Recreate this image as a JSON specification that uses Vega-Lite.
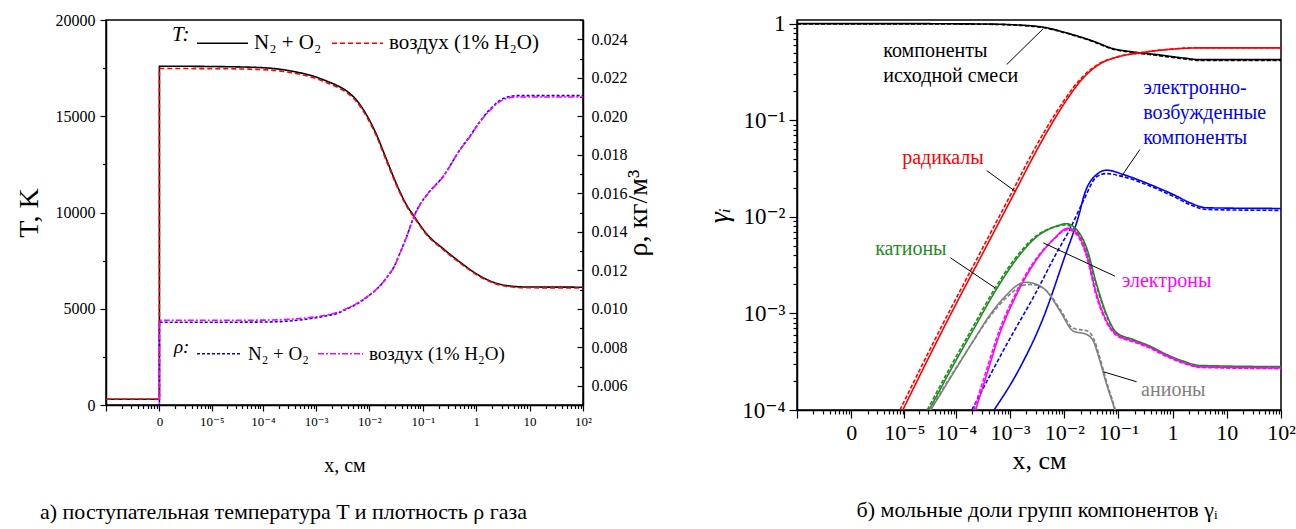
{
  "$schema": "https://vega.github.io/schema/vega-lite/v6.json",
  "background": "white",
  "padding": {"left": 14, "top": 11, "right": 0, "bottom": 0},
  "spacing": 52,
  "config": {
    "font": "Liberation Serif, DejaVu Serif",
    "view": {"stroke": "black", "strokeWidth": 1.5},
    "axis": {"domainColor": "black", "tickColor": "black", "labelColor": "black", "titleColor": "black", "labelFont": "Liberation Serif, DejaVu Serif", "titleFont": "Liberation Serif, DejaVu Serif", "titleFontWeight": "normal", "grid": false, "domainWidth": 1.5, "tickWidth": 1.2, "labelFlush": false, "labelOverlap": false, "labelBound": false},
    "title": {"font": "Liberation Serif, DejaVu Serif", "fontWeight": "normal", "color": "black", "fontSize": 22}
  },
  "hconcat": [
    {
      "width": 477,
      "height": 385,
      "title": {"text": "а) поступательная температура T и плотность ρ газа", "orient": "bottom", "anchor": "middle", "offset": 27, "dx": -61},
      "encoding": {
        "x": {
          "field": "x", "type": "quantitative",
          "scale": {"type": "symlog", "constant": 1.17e-6, "domain": [-1.053e-5, 100], "nice": false, "zero": false},
          "axis": {
            "title": "x, см", "titleFontSize": 20, "titlePadding": 27,
            "values": [-1.053e-5, -4.68e-6, -2.73e-6, -1.755e-6, -1.17e-6, -7.8e-7, -5.01e-7, -2.93e-7, -1.3e-7, 0, 1.17e-6, 2.34e-6, 3.51e-6, 4.68e-6, 5.85e-6, 7.02e-6, 8.19e-6, 9.36e-6, 1e-5, 2e-5, 3e-5, 4e-5, 5e-5, 6e-5, 7e-5, 8e-5, 9e-5, 1e-4, 2e-4, 3e-4, 4e-4, 5e-4, 6e-4, 7e-4, 8e-4, 9e-4, 0.001, 0.002, 0.003, 0.004, 0.005, 0.006, 0.007, 0.008, 0.009, 0.01, 0.02, 0.03, 0.04, 0.05, 0.06, 0.07, 0.08, 0.09, 0.1, 0.2, 0.3, 0.4, 0.5, 0.6, 0.7, 0.8, 0.9, 1, 2, 3, 4, 5, 6, 7, 8, 9, 10, 20, 30, 40, 50, 60, 70, 80, 90, 100],
            "labelExpr": "datum.value === 0 ? '0' : datum.value === 0.00001 ? '10⁻⁵' : datum.value === 0.0001 ? '10⁻⁴' : datum.value === 0.001 ? '10⁻³' : datum.value === 0.01 ? '10⁻²' : datum.value === 0.1 ? '10⁻¹' : datum.value === 1 ? '1' : datum.value === 10 ? '10' : datum.value === 100 ? '10²' : ''",
            "labelFontSize": 13, "labelPadding": 4,
            "tickSize": {"condition": {"test": "indexof([-0.00001053, 0, 0.00001, 0.0001, 0.001, 0.01, 0.1, 1, 10, 100], datum.value) >= 0", "value": 6}, "value": 3.5}
          }
        },
        "order": {"field": "i", "type": "quantitative"}
      },
      "layer": [
        {
          "data": {"values": [
            {"mix": "N₂ + O₂", "i": 0, "x": -1.053e-5, "T": 300},
            {"mix": "N₂ + O₂", "i": 1, "x": 0, "T": 300},
            {"mix": "N₂ + O₂", "i": 2, "x": 0, "T": 17600},
            {"mix": "N₂ + O₂", "i": 3, "x": 1.39e-5, "T": 17580},
            {"mix": "N₂ + O₂", "i": 4, "x": 1.04e-4, "T": 17520},
            {"mix": "N₂ + O₂", "i": 5, "x": 4.4e-4, "T": 17290},
            {"mix": "N₂ + O₂", "i": 6, "x": 9e-4, "T": 17080},
            {"mix": "N₂ + O₂", "i": 7, "x": 0.0016, "T": 16820},
            {"mix": "N₂ + O₂", "i": 8, "x": 0.00247, "T": 16600},
            {"mix": "N₂ + O₂", "i": 9, "x": 0.0038, "T": 16300},
            {"mix": "N₂ + O₂", "i": 10, "x": 0.00585, "T": 15810},
            {"mix": "N₂ + O₂", "i": 11, "x": 0.009, "T": 15030},
            {"mix": "N₂ + O₂", "i": 12, "x": 0.01387, "T": 13990},
            {"mix": "N₂ + O₂", "i": 13, "x": 0.0185, "T": 13130},
            {"mix": "N₂ + O₂", "i": 14, "x": 0.0246, "T": 12260},
            {"mix": "N₂ + O₂", "i": 15, "x": 0.0354, "T": 11220},
            {"mix": "N₂ + O₂", "i": 16, "x": 0.0506, "T": 10350},
            {"mix": "N₂ + O₂", "i": 17, "x": 0.0676, "T": 9830},
            {"mix": "N₂ + O₂", "i": 18, "x": 0.119, "T": 8880},
            {"mix": "N₂ + O₂", "i": 19, "x": 0.246, "T": 8100},
            {"mix": "N₂ + O₂", "i": 20, "x": 0.505, "T": 7410},
            {"mix": "N₂ + O₂", "i": 21, "x": 1.03, "T": 6800},
            {"mix": "N₂ + O₂", "i": 22, "x": 2.13, "T": 6370},
            {"mix": "N₂ + O₂", "i": 23, "x": 3.79, "T": 6200},
            {"mix": "N₂ + O₂", "i": 24, "x": 8.97, "T": 6130},
            {"mix": "N₂ + O₂", "i": 25, "x": 100, "T": 6120},
            {"mix": "воздух (1% H₂O)", "i": 0, "x": -1.053e-5, "T": 300},
            {"mix": "воздух (1% H₂O)", "i": 1, "x": 0, "T": 300},
            {"mix": "воздух (1% H₂O)", "i": 2, "x": 0, "T": 17480},
            {"mix": "воздух (1% H₂O)", "i": 3, "x": 1.39e-5, "T": 17470},
            {"mix": "воздух (1% H₂O)", "i": 4, "x": 1.04e-4, "T": 17420},
            {"mix": "воздух (1% H₂O)", "i": 5, "x": 4.4e-4, "T": 17210},
            {"mix": "воздух (1% H₂O)", "i": 6, "x": 9e-4, "T": 17000},
            {"mix": "воздух (1% H₂O)", "i": 7, "x": 0.0016, "T": 16740},
            {"mix": "воздух (1% H₂O)", "i": 8, "x": 0.00247, "T": 16520},
            {"mix": "воздух (1% H₂O)", "i": 9, "x": 0.0038, "T": 16220},
            {"mix": "воздух (1% H₂O)", "i": 10, "x": 0.00585, "T": 15730},
            {"mix": "воздух (1% H₂O)", "i": 11, "x": 0.009, "T": 14950},
            {"mix": "воздух (1% H₂O)", "i": 12, "x": 0.01387, "T": 13910},
            {"mix": "воздух (1% H₂O)", "i": 13, "x": 0.0185, "T": 13050},
            {"mix": "воздух (1% H₂O)", "i": 14, "x": 0.0246, "T": 12190},
            {"mix": "воздух (1% H₂O)", "i": 15, "x": 0.0354, "T": 11150},
            {"mix": "воздух (1% H₂O)", "i": 16, "x": 0.0506, "T": 10290},
            {"mix": "воздух (1% H₂O)", "i": 17, "x": 0.0676, "T": 9780},
            {"mix": "воздух (1% H₂O)", "i": 18, "x": 0.119, "T": 8830},
            {"mix": "воздух (1% H₂O)", "i": 19, "x": 0.246, "T": 8050},
            {"mix": "воздух (1% H₂O)", "i": 20, "x": 0.505, "T": 7360},
            {"mix": "воздух (1% H₂O)", "i": 21, "x": 1.03, "T": 6760},
            {"mix": "воздух (1% H₂O)", "i": 22, "x": 2.13, "T": 6330},
            {"mix": "воздух (1% H₂O)", "i": 23, "x": 3.79, "T": 6160},
            {"mix": "воздух (1% H₂O)", "i": 24, "x": 8.97, "T": 6090},
            {"mix": "воздух (1% H₂O)", "i": 25, "x": 100, "T": 6080}
          ]},
          "mark": {"type": "line", "strokeWidth": 1.6, "clip": true, "interpolate": "monotone"},
          "encoding": {
            "y": {
              "field": "T", "type": "quantitative",
              "scale": {"domain": [0, 20000], "nice": false},
              "axis": {
                "orient": "left", "title": "T, K", "titleFontSize": 28, "titlePadding": 12,
                "values": [0, 2500, 5000, 7500, 10000, 12500, 15000, 17500, 20000],
                "labelExpr": "datum.value % 5000 === 0 ? format(datum.value, 'd') : ''",
                "labelFontSize": 16, "labelPadding": 5,
                "tickSize": {"condition": {"test": "datum.value % 5000 === 0", "value": 6}, "value": 3.5}
              }
            },
            "color": {
              "field": "mix", "type": "nominal",
              "scale": {"domain": ["N₂ + O₂", "воздух (1% H₂O)"], "range": ["#000000", "#ff0000"]},
              "legend": {"title": "T:", "orient": "none", "legendX": 66, "legendY": -3.5, "direction": "horizontal", "titleOrient": "left", "titleAnchor": "middle", "titleBaseline": "middle", "titleFontStyle": "italic", "titleFont": "Liberation Serif, DejaVu Serif", "titleFontSize": 21, "titleFontWeight": "normal", "titleColor": "black", "labelFont": "Liberation Serif, DejaVu Serif", "labelFontSize": 21, "labelColor": "black", "symbolType": "stroke", "symbolSize": 2601, "symbolStrokeWidth": 1.5, "columnPadding": 7, "labelOffset": 5, "titlePadding": 6, "labelLimit": 300, "padding": 0}
            },
            "strokeDash": {
              "field": "mix", "type": "nominal",
              "scale": {"domain": ["N₂ + O₂", "воздух (1% H₂O)"], "range": [[1, 0], [5, 3]]},
              "legend": {"title": "T:", "orient": "none", "legendX": 66, "legendY": -3.5, "direction": "horizontal", "titleOrient": "left", "titleAnchor": "middle", "titleBaseline": "middle", "titleFontStyle": "italic", "titleFont": "Liberation Serif, DejaVu Serif", "titleFontSize": 21, "titleFontWeight": "normal", "titleColor": "black", "labelFont": "Liberation Serif, DejaVu Serif", "labelFontSize": 21, "labelColor": "black", "symbolType": "stroke", "symbolSize": 2601, "symbolStrokeWidth": 1.5, "columnPadding": 7, "labelOffset": 5, "titlePadding": 6, "labelLimit": 300, "padding": 0}
            }
          }
        },
        {
          "data": {"values": [
            {"mix": "N₂ + O₂", "i": 0, "x": -1.053e-5, "rho": 0.00118},
            {"mix": "N₂ + O₂", "i": 1, "x": 0, "rho": 0.00118},
            {"mix": "N₂ + O₂", "i": 2, "x": 0, "rho": 0.0093},
            {"mix": "N₂ + O₂", "i": 3, "x": 1.39e-5, "rho": 0.0093},
            {"mix": "N₂ + O₂", "i": 4, "x": 1.04e-4, "rho": 0.00931},
            {"mix": "N₂ + O₂", "i": 5, "x": 4.4e-4, "rho": 0.0094},
            {"mix": "N₂ + O₂", "i": 6, "x": 0.0016, "rho": 0.00964},
            {"mix": "N₂ + O₂", "i": 7, "x": 0.00247, "rho": 0.00976},
            {"mix": "N₂ + O₂", "i": 8, "x": 0.0038, "rho": 0.00999},
            {"mix": "N₂ + O₂", "i": 9, "x": 0.00585, "rho": 0.01025},
            {"mix": "N₂ + O₂", "i": 10, "x": 0.009, "rho": 0.0106},
            {"mix": "N₂ + O₂", "i": 11, "x": 0.01387, "rho": 0.01103},
            {"mix": "N₂ + O₂", "i": 12, "x": 0.0213, "rho": 0.01163},
            {"mix": "N₂ + O₂", "i": 13, "x": 0.0285, "rho": 0.01215},
            {"mix": "N₂ + O₂", "i": 14, "x": 0.0379, "rho": 0.01293},
            {"mix": "N₂ + O₂", "i": 15, "x": 0.0506, "rho": 0.0138},
            {"mix": "N₂ + O₂", "i": 16, "x": 0.0676, "rho": 0.01476},
            {"mix": "N₂ + O₂", "i": 17, "x": 0.0897, "rho": 0.01544},
            {"mix": "N₂ + O₂", "i": 18, "x": 0.119, "rho": 0.01592},
            {"mix": "N₂ + O₂", "i": 19, "x": 0.246, "rho": 0.01691},
            {"mix": "N₂ + O₂", "i": 20, "x": 0.505, "rho": 0.0183},
            {"mix": "N₂ + O₂", "i": 21, "x": 0.776, "rho": 0.01899},
            {"mix": "N₂ + O₂", "i": 22, "x": 1.03, "rho": 0.01951},
            {"mix": "N₂ + O₂", "i": 23, "x": 1.84, "rho": 0.02038},
            {"mix": "N₂ + O₂", "i": 24, "x": 3.28, "rho": 0.02093},
            {"mix": "N₂ + O₂", "i": 25, "x": 5.82, "rho": 0.02107},
            {"mix": "N₂ + O₂", "i": 26, "x": 100, "rho": 0.02107},
            {"mix": "воздух (1% H₂O)", "i": 0, "x": -1.053e-5, "rho": 0.00118},
            {"mix": "воздух (1% H₂O)", "i": 1, "x": 0, "rho": 0.00118},
            {"mix": "воздух (1% H₂O)", "i": 2, "x": 0, "rho": 0.0094},
            {"mix": "воздух (1% H₂O)", "i": 3, "x": 1.39e-5, "rho": 0.0094},
            {"mix": "воздух (1% H₂O)", "i": 4, "x": 1.04e-4, "rho": 0.00941},
            {"mix": "воздух (1% H₂O)", "i": 5, "x": 4.4e-4, "rho": 0.00948},
            {"mix": "воздух (1% H₂O)", "i": 6, "x": 0.0016, "rho": 0.00968},
            {"mix": "воздух (1% H₂O)", "i": 7, "x": 0.00247, "rho": 0.0098},
            {"mix": "воздух (1% H₂O)", "i": 8, "x": 0.0038, "rho": 0.01002},
            {"mix": "воздух (1% H₂O)", "i": 9, "x": 0.00585, "rho": 0.01028},
            {"mix": "воздух (1% H₂O)", "i": 10, "x": 0.009, "rho": 0.01062},
            {"mix": "воздух (1% H₂O)", "i": 11, "x": 0.01387, "rho": 0.01104},
            {"mix": "воздух (1% H₂O)", "i": 12, "x": 0.0213, "rho": 0.01163},
            {"mix": "воздух (1% H₂O)", "i": 13, "x": 0.0285, "rho": 0.01214},
            {"mix": "воздух (1% H₂O)", "i": 14, "x": 0.0379, "rho": 0.01292},
            {"mix": "воздух (1% H₂O)", "i": 15, "x": 0.0506, "rho": 0.01378},
            {"mix": "воздух (1% H₂O)", "i": 16, "x": 0.0676, "rho": 0.01474},
            {"mix": "воздух (1% H₂O)", "i": 17, "x": 0.0897, "rho": 0.01542},
            {"mix": "воздух (1% H₂O)", "i": 18, "x": 0.119, "rho": 0.0159},
            {"mix": "воздух (1% H₂O)", "i": 19, "x": 0.246, "rho": 0.0169},
            {"mix": "воздух (1% H₂O)", "i": 20, "x": 0.505, "rho": 0.01828},
            {"mix": "воздух (1% H₂O)", "i": 21, "x": 0.776, "rho": 0.01896},
            {"mix": "воздух (1% H₂O)", "i": 22, "x": 1.03, "rho": 0.01948},
            {"mix": "воздух (1% H₂O)", "i": 23, "x": 1.84, "rho": 0.02033},
            {"mix": "воздух (1% H₂O)", "i": 24, "x": 3.28, "rho": 0.02087},
            {"mix": "воздух (1% H₂O)", "i": 25, "x": 5.82, "rho": 0.021},
            {"mix": "воздух (1% H₂O)", "i": 26, "x": 100, "rho": 0.021}
          ]},
          "mark": {"type": "line", "strokeWidth": 1.6, "clip": true, "interpolate": "monotone"},
          "encoding": {
            "y": {
              "field": "rho", "type": "quantitative",
              "scale": {"domain": [0.005, 0.025], "nice": false, "zero": false},
              "axis": {
                "orient": "right", "title": "ρ, кг/м³", "titleFontSize": 28, "titlePadding": 25, "titleAngle": 270,
                "values": [0.005, 0.006, 0.007, 0.008, 0.009, 0.01, 0.011, 0.012, 0.013, 0.014, 0.015, 0.016, 0.017, 0.018, 0.019, 0.02, 0.021, 0.022, 0.023, 0.024, 0.025],
                "labelExpr": "round(datum.value * 1000) % 2 === 0 && datum.value > 0.0055 && datum.value < 0.0245 ? format(datum.value, '.3f') : ''",
                "labelFontSize": 16, "labelPadding": 14,
                "tickSize": {"condition": {"test": "round(datum.value * 1000) % 2 === 0", "value": -6}, "value": -3.5}
              }
            },
            "color": {
              "field": "mix", "type": "nominal",
              "scale": {"domain": ["N₂ + O₂", "воздух (1% H₂O)"], "range": ["#0000ff", "#ff00ff"]},
              "legend": {"title": "ρ:", "orient": "none", "legendX": 68, "legendY": 310, "direction": "horizontal", "titleOrient": "left", "titleAnchor": "middle", "titleBaseline": "middle", "titleFontStyle": "italic", "titleFont": "Liberation Serif, DejaVu Serif", "titleFontSize": 19, "titleFontWeight": "normal", "titleColor": "black", "labelFont": "Liberation Serif, DejaVu Serif", "labelFontSize": 19, "labelColor": "black", "symbolType": "stroke", "symbolSize": 2025, "symbolStrokeWidth": 1.5, "columnPadding": 6, "labelOffset": 5, "titlePadding": 6, "labelLimit": 300, "padding": 0}
            },
            "strokeDash": {
              "field": "mix", "type": "nominal",
              "scale": {"domain": ["N₂ + O₂", "воздух (1% H₂O)"], "range": [[3, 2], [6, 2, 2, 2]]},
              "legend": {"title": "ρ:", "orient": "none", "legendX": 68, "legendY": 310, "direction": "horizontal", "titleOrient": "left", "titleAnchor": "middle", "titleBaseline": "middle", "titleFontStyle": "italic", "titleFont": "Liberation Serif, DejaVu Serif", "titleFontSize": 19, "titleFontWeight": "normal", "titleColor": "black", "labelFont": "Liberation Serif, DejaVu Serif", "labelFontSize": 19, "labelColor": "black", "symbolType": "stroke", "symbolSize": 2025, "symbolStrokeWidth": 1.5, "columnPadding": 6, "labelOffset": 5, "titlePadding": 6, "labelLimit": 300, "padding": 0}
            }
          }
        }
      ],
      "resolve": {"scale": {"y": "independent", "color": "independent", "strokeDash": "independent"}, "legend": {"color": "independent", "strokeDash": "independent"}}
    },
    {
      "width": 484,
      "height": 390,
      "title": {"text": "б) мольные доли групп компонентов γᵢ", "orient": "bottom", "anchor": "middle", "offset": 27, "dx": -2},
      "encoding": {
        "x": {
          "field": "x", "type": "quantitative",
          "scale": {"type": "symlog", "constant": 1.17e-6, "domain": [-1.053e-5, 100], "nice": false, "zero": false},
          "axis": {
            "title": "x, см", "titleFontSize": 26, "titlePadding": 4,
            "values": [-1.053e-5, -4.68e-6, -2.73e-6, -1.755e-6, -1.17e-6, -7.8e-7, -5.01e-7, -2.93e-7, -1.3e-7, 0, 1.17e-6, 2.34e-6, 3.51e-6, 4.68e-6, 5.85e-6, 7.02e-6, 8.19e-6, 9.36e-6, 1e-5, 2e-5, 3e-5, 4e-5, 5e-5, 6e-5, 7e-5, 8e-5, 9e-5, 1e-4, 2e-4, 3e-4, 4e-4, 5e-4, 6e-4, 7e-4, 8e-4, 9e-4, 0.001, 0.002, 0.003, 0.004, 0.005, 0.006, 0.007, 0.008, 0.009, 0.01, 0.02, 0.03, 0.04, 0.05, 0.06, 0.07, 0.08, 0.09, 0.1, 0.2, 0.3, 0.4, 0.5, 0.6, 0.7, 0.8, 0.9, 1, 2, 3, 4, 5, 6, 7, 8, 9, 10, 20, 30, 40, 50, 60, 70, 80, 90, 100],
            "labelExpr": "datum.value === 0 ? '0' : datum.value === 0.00001 ? '10⁻⁵' : datum.value === 0.0001 ? '10⁻⁴' : datum.value === 0.001 ? '10⁻³' : datum.value === 0.01 ? '10⁻²' : datum.value === 0.1 ? '10⁻¹' : datum.value === 1 ? '1' : datum.value === 10 ? '10' : datum.value === 100 ? '10²' : ''",
            "labelFontSize": 22, "labelPadding": 4,
            "tickSize": {"condition": {"test": "indexof([-0.00001053, 0, 0.00001, 0.0001, 0.001, 0.01, 0.1, 1, 10, 100], datum.value) >= 0", "value": 8}, "value": 4}
          }
        },
        "y": {
          "field": "y", "type": "quantitative",
          "scale": {"type": "log", "domain": [0.0001, 1.09], "nice": false},
          "axis": {
            "title": "γᵢ", "titleFontSize": 28, "titleFontStyle": "italic", "titlePadding": 8,
            "values": [0.0001, 0.0002, 0.0003, 0.0004, 0.0005, 0.0006, 0.0007, 0.0008, 0.0009, 0.001, 0.002, 0.003, 0.004, 0.005, 0.006, 0.007, 0.008, 0.009, 0.01, 0.02, 0.03, 0.04, 0.05, 0.06, 0.07, 0.08, 0.09, 0.1, 0.2, 0.3, 0.4, 0.5, 0.6, 0.7, 0.8, 0.9, 1],
            "labelExpr": "datum.value === 1 ? '1' : datum.value === 0.1 ? '10⁻¹' : datum.value === 0.01 ? '10⁻²' : datum.value === 0.001 ? '10⁻³' : datum.value === 0.0001 ? '10⁻⁴' : ''",
            "labelFontSize": 23, "labelPadding": 4,
            "tickSize": {"condition": {"test": "indexof([0.0001, 0.001, 0.01, 0.1, 1], datum.value) >= 0", "value": 8}, "value": 4}
          }
        }
      },
      "layer": [
        {
          "data": {"values": [
            {"g": "исходные", "m": "N₂ + O₂", "x": -1.053e-5, "y": 1.0},
            {"g": "исходные", "m": "N₂ + O₂", "x": 1e-5, "y": 1.0},
            {"g": "исходные", "m": "N₂ + O₂", "x": 1e-4, "y": 0.995},
            {"g": "исходные", "m": "N₂ + O₂", "x": 6.5e-4, "y": 0.985},
            {"g": "исходные", "m": "N₂ + O₂", "x": 0.001, "y": 0.976},
            {"g": "исходные", "m": "N₂ + O₂", "x": 0.0041, "y": 0.918},
            {"g": "исходные", "m": "N₂ + O₂", "x": 0.0111, "y": 0.801},
            {"g": "исходные", "m": "N₂ + O₂", "x": 0.0343, "y": 0.658},
            {"g": "исходные", "m": "N₂ + O₂", "x": 0.08, "y": 0.551},
            {"g": "исходные", "m": "N₂ + O₂", "x": 0.187, "y": 0.509},
            {"g": "исходные", "m": "N₂ + O₂", "x": 0.507, "y": 0.478},
            {"g": "исходные", "m": "N₂ + O₂", "x": 1.57, "y": 0.441},
            {"g": "исходные", "m": "N₂ + O₂", "x": 3.19, "y": 0.424},
            {"g": "исходные", "m": "N₂ + O₂", "x": 100, "y": 0.424},
            {"g": "исходные", "m": "воздух (1% H₂O)", "x": -1.053e-5, "y": 0.995},
            {"g": "исходные", "m": "воздух (1% H₂O)", "x": 1e-5, "y": 0.995},
            {"g": "исходные", "m": "воздух (1% H₂O)", "x": 1e-4, "y": 0.99},
            {"g": "исходные", "m": "воздух (1% H₂O)", "x": 6.5e-4, "y": 0.98},
            {"g": "исходные", "m": "воздух (1% H₂O)", "x": 0.001, "y": 0.97},
            {"g": "исходные", "m": "воздух (1% H₂O)", "x": 0.0041, "y": 0.91},
            {"g": "исходные", "m": "воздух (1% H₂O)", "x": 0.0111, "y": 0.793},
            {"g": "исходные", "m": "воздух (1% H₂O)", "x": 0.0343, "y": 0.65},
            {"g": "исходные", "m": "воздух (1% H₂O)", "x": 0.08, "y": 0.543},
            {"g": "исходные", "m": "воздух (1% H₂O)", "x": 0.187, "y": 0.501},
            {"g": "исходные", "m": "воздух (1% H₂O)", "x": 0.507, "y": 0.47},
            {"g": "исходные", "m": "воздух (1% H₂O)", "x": 1.57, "y": 0.432},
            {"g": "исходные", "m": "воздух (1% H₂O)", "x": 3.19, "y": 0.416},
            {"g": "исходные", "m": "воздух (1% H₂O)", "x": 100, "y": 0.415},
            {"g": "радикалы", "m": "N₂ + O₂", "x": 9.3e-6, "y": 0.0001},
            {"g": "радикалы", "m": "N₂ + O₂", "x": 6e-5, "y": 0.000728},
            {"g": "радикалы", "m": "N₂ + O₂", "x": 3.96e-4, "y": 0.0054},
            {"g": "радикалы", "m": "N₂ + O₂", "x": 0.00132, "y": 0.01954},
            {"g": "радикалы", "m": "N₂ + O₂", "x": 0.00268, "y": 0.0419},
            {"g": "радикалы", "m": "N₂ + O₂", "x": 0.00544, "y": 0.0853},
            {"g": "радикалы", "m": "N₂ + O₂", "x": 0.0111, "y": 0.1626},
            {"g": "радикалы", "m": "N₂ + O₂", "x": 0.0224, "y": 0.274},
            {"g": "радикалы", "m": "N₂ + O₂", "x": 0.0456, "y": 0.383},
            {"g": "радикалы", "m": "N₂ + O₂", "x": 0.0927, "y": 0.449},
            {"g": "радикалы", "m": "N₂ + O₂", "x": 0.249, "y": 0.498},
            {"g": "радикалы", "m": "N₂ + O₂", "x": 0.774, "y": 0.538},
            {"g": "радикалы", "m": "N₂ + O₂", "x": 3.19, "y": 0.561},
            {"g": "радикалы", "m": "N₂ + O₂", "x": 100, "y": 0.561},
            {"g": "радикалы", "m": "воздух (1% H₂O)", "x": 8.1e-6, "y": 0.0001},
            {"g": "радикалы", "m": "воздух (1% H₂O)", "x": 5.3e-5, "y": 0.000728},
            {"g": "радикалы", "m": "воздух (1% H₂O)", "x": 3.5e-4, "y": 0.0054},
            {"g": "радикалы", "m": "воздух (1% H₂O)", "x": 0.00117, "y": 0.01954},
            {"g": "радикалы", "m": "воздух (1% H₂O)", "x": 0.00237, "y": 0.0419},
            {"g": "радикалы", "m": "воздух (1% H₂O)", "x": 0.00485, "y": 0.0853},
            {"g": "радикалы", "m": "воздух (1% H₂O)", "x": 0.0101, "y": 0.1626},
            {"g": "радикалы", "m": "воздух (1% H₂O)", "x": 0.0208, "y": 0.274},
            {"g": "радикалы", "m": "воздух (1% H₂O)", "x": 0.0435, "y": 0.383},
            {"g": "радикалы", "m": "воздух (1% H₂O)", "x": 0.09, "y": 0.449},
            {"g": "радикалы", "m": "воздух (1% H₂O)", "x": 0.249, "y": 0.499},
            {"g": "радикалы", "m": "воздух (1% H₂O)", "x": 0.774, "y": 0.54},
            {"g": "радикалы", "m": "воздух (1% H₂O)", "x": 3.19, "y": 0.563},
            {"g": "радикалы", "m": "воздух (1% H₂O)", "x": 100, "y": 0.563},
            {"g": "возбужденные", "m": "N₂ + O₂", "x": 5.05e-4, "y": 0.0001},
            {"g": "возбужденные", "m": "N₂ + O₂", "x": 0.00152, "y": 0.000274},
            {"g": "возбужденные", "m": "N₂ + O₂", "x": 0.0041, "y": 0.0009},
            {"g": "возбужденные", "m": "N₂ + O₂", "x": 0.00957, "y": 0.00348},
            {"g": "возбужденные", "m": "N₂ + O₂", "x": 0.0195, "y": 0.01146},
            {"g": "возбужденные", "m": "N₂ + O₂", "x": 0.0225, "y": 0.0157},
            {"g": "возбужденные", "m": "N₂ + O₂", "x": 0.0396, "y": 0.0274},
            {"g": "возбужденные", "m": "N₂ + O₂", "x": 0.0605, "y": 0.0304},
            {"g": "возбужденные", "m": "N₂ + O₂", "x": 0.123, "y": 0.0274},
            {"g": "возбужденные", "m": "N₂ + O₂", "x": 0.381, "y": 0.0216},
            {"g": "возбужденные", "m": "N₂ + O₂", "x": 1.03, "y": 0.017},
            {"g": "возбужденные", "m": "N₂ + O₂", "x": 2.08, "y": 0.014},
            {"g": "возбужденные", "m": "N₂ + O₂", "x": 4.24, "y": 0.01239},
            {"g": "возбужденные", "m": "N₂ + O₂", "x": 100, "y": 0.0122},
            {"g": "возбужденные", "m": "воздух (1% H₂O)", "x": 1.96e-4, "y": 0.0001},
            {"g": "возбужденные", "m": "воздух (1% H₂O)", "x": 8.65e-4, "y": 0.000478},
            {"g": "возбужденные", "m": "воздух (1% H₂O)", "x": 0.0031, "y": 0.0017},
            {"g": "возбужденные", "m": "воздух (1% H₂O)", "x": 0.00724, "y": 0.00425},
            {"g": "возбужденные", "m": "воздух (1% H₂O)", "x": 0.0128, "y": 0.0075},
            {"g": "возбужденные", "m": "воздух (1% H₂O)", "x": 0.0225, "y": 0.0146},
            {"g": "возбужденные", "m": "воздух (1% H₂O)", "x": 0.0396, "y": 0.026},
            {"g": "возбужденные", "m": "воздух (1% H₂O)", "x": 0.0596, "y": 0.028},
            {"g": "возбужденные", "m": "воздух (1% H₂O)", "x": 0.123, "y": 0.026},
            {"g": "возбужденные", "m": "воздух (1% H₂O)", "x": 0.381, "y": 0.0208},
            {"g": "возбужденные", "m": "воздух (1% H₂O)", "x": 1.03, "y": 0.0163},
            {"g": "возбужденные", "m": "воздух (1% H₂O)", "x": 2.08, "y": 0.0134},
            {"g": "возбужденные", "m": "воздух (1% H₂O)", "x": 4.24, "y": 0.0119},
            {"g": "возбужденные", "m": "воздух (1% H₂O)", "x": 100, "y": 0.01166},
            {"g": "катионы", "m": "N₂ + O₂", "x": 3.1e-5, "y": 0.0001},
            {"g": "катионы", "m": "N₂ + O₂", "x": 8.95e-5, "y": 0.000294},
            {"g": "катионы", "m": "N₂ + O₂", "x": 2.09e-4, "y": 0.000678},
            {"g": "катионы", "m": "N₂ + O₂", "x": 5.66e-4, "y": 0.0018},
            {"g": "катионы", "m": "N₂ + O₂", "x": 0.00132, "y": 0.00367},
            {"g": "катионы", "m": "N₂ + O₂", "x": 0.0031, "y": 0.00621},
            {"g": "катионы", "m": "N₂ + O₂", "x": 0.00724, "y": 0.00802},
            {"g": "катионы", "m": "N₂ + O₂", "x": 0.0108, "y": 0.00848},
            {"g": "катионы", "m": "N₂ + O₂", "x": 0.0169, "y": 0.0074},
            {"g": "катионы", "m": "N₂ + O₂", "x": 0.0259, "y": 0.00477},
            {"g": "катионы", "m": "N₂ + O₂", "x": 0.0396, "y": 0.002},
            {"g": "катионы", "m": "N₂ + O₂", "x": 0.0605, "y": 0.000975},
            {"g": "катионы", "m": "N₂ + O₂", "x": 0.0927, "y": 0.000631},
            {"g": "катионы", "m": "N₂ + O₂", "x": 0.1876, "y": 0.000537},
            {"g": "катионы", "m": "N₂ + O₂", "x": 0.381, "y": 0.000459},
            {"g": "катионы", "m": "N₂ + O₂", "x": 0.774, "y": 0.000376},
            {"g": "катионы", "m": "N₂ + O₂", "x": 1.57, "y": 0.000321},
            {"g": "катионы", "m": "N₂ + O₂", "x": 3.19, "y": 0.000289},
            {"g": "катионы", "m": "N₂ + O₂", "x": 100, "y": 0.000281},
            {"g": "катионы", "m": "воздух (1% H₂O)", "x": 2.85e-5, "y": 0.0001},
            {"g": "катионы", "m": "воздух (1% H₂O)", "x": 8.2e-5, "y": 0.000294},
            {"g": "катионы", "m": "воздух (1% H₂O)", "x": 1.92e-4, "y": 0.000678},
            {"g": "катионы", "m": "воздух (1% H₂O)", "x": 5.2e-4, "y": 0.0018},
            {"g": "катионы", "m": "воздух (1% H₂O)", "x": 0.00122, "y": 0.00367},
            {"g": "катионы", "m": "воздух (1% H₂O)", "x": 0.0029, "y": 0.00621},
            {"g": "катионы", "m": "воздух (1% H₂O)", "x": 0.0069, "y": 0.0079},
            {"g": "катионы", "m": "воздух (1% H₂O)", "x": 0.0105, "y": 0.00825},
            {"g": "катионы", "m": "воздух (1% H₂O)", "x": 0.0165, "y": 0.0072},
            {"g": "катионы", "m": "воздух (1% H₂O)", "x": 0.0255, "y": 0.0046},
            {"g": "катионы", "m": "воздух (1% H₂O)", "x": 0.039, "y": 0.00195},
            {"g": "катионы", "m": "воздух (1% H₂O)", "x": 0.06, "y": 0.00095},
            {"g": "катионы", "m": "воздух (1% H₂O)", "x": 0.0927, "y": 0.00062},
            {"g": "катионы", "m": "воздух (1% H₂O)", "x": 0.1876, "y": 0.00053},
            {"g": "катионы", "m": "воздух (1% H₂O)", "x": 0.381, "y": 0.000452},
            {"g": "катионы", "m": "воздух (1% H₂O)", "x": 0.774, "y": 0.00037},
            {"g": "катионы", "m": "воздух (1% H₂O)", "x": 1.57, "y": 0.000316},
            {"g": "катионы", "m": "воздух (1% H₂O)", "x": 3.19, "y": 0.000285},
            {"g": "катионы", "m": "воздух (1% H₂O)", "x": 100, "y": 0.000277},
            {"g": "электроны", "m": "N₂ + O₂", "x": 2.3e-4, "y": 0.0001},
            {"g": "электроны", "m": "N₂ + O₂", "x": 3.7e-4, "y": 0.000233},
            {"g": "электроны", "m": "N₂ + O₂", "x": 6.52e-4, "y": 0.000631},
            {"g": "электроны", "m": "N₂ + O₂", "x": 0.00132, "y": 0.00157},
            {"g": "электроны", "m": "N₂ + O₂", "x": 0.00268, "y": 0.00321},
            {"g": "электроны", "m": "N₂ + O₂", "x": 0.00627, "y": 0.00582},
            {"g": "электроны", "m": "N₂ + O₂", "x": 0.0117, "y": 0.0076},
            {"g": "электроны", "m": "N₂ + O₂", "x": 0.0169, "y": 0.00682},
            {"g": "электроны", "m": "N₂ + O₂", "x": 0.0259, "y": 0.00407},
            {"g": "электроны", "m": "N₂ + O₂", "x": 0.0396, "y": 0.00157},
            {"g": "электроны", "m": "N₂ + O₂", "x": 0.0605, "y": 0.000834},
            {"g": "электроны", "m": "N₂ + O₂", "x": 0.0927, "y": 0.000605},
            {"g": "электроны", "m": "N₂ + O₂", "x": 0.1876, "y": 0.000518},
            {"g": "электроны", "m": "N₂ + O₂", "x": 0.381, "y": 0.000445},
            {"g": "электроны", "m": "N₂ + O₂", "x": 0.774, "y": 0.000365},
            {"g": "электроны", "m": "N₂ + O₂", "x": 1.57, "y": 0.00031},
            {"g": "электроны", "m": "N₂ + O₂", "x": 3.19, "y": 0.00028},
            {"g": "электроны", "m": "N₂ + O₂", "x": 100, "y": 0.000272},
            {"g": "электроны", "m": "воздух (1% H₂O)", "x": 2.12e-4, "y": 0.0001},
            {"g": "электроны", "m": "воздух (1% H₂O)", "x": 3.45e-4, "y": 0.000233},
            {"g": "электроны", "m": "воздух (1% H₂O)", "x": 6.1e-4, "y": 0.000631},
            {"g": "электроны", "m": "воздух (1% H₂O)", "x": 0.00124, "y": 0.00157},
            {"g": "электроны", "m": "воздух (1% H₂O)", "x": 0.00255, "y": 0.00321},
            {"g": "электроны", "m": "воздух (1% H₂O)", "x": 0.0061, "y": 0.0057},
            {"g": "электроны", "m": "воздух (1% H₂O)", "x": 0.0115, "y": 0.00735},
            {"g": "электроны", "m": "воздух (1% H₂O)", "x": 0.0167, "y": 0.0066},
            {"g": "электроны", "m": "воздух (1% H₂O)", "x": 0.0257, "y": 0.0039},
            {"g": "электроны", "m": "воздух (1% H₂O)", "x": 0.0393, "y": 0.0015},
            {"g": "электроны", "m": "воздух (1% H₂O)", "x": 0.06, "y": 0.00081},
            {"g": "электроны", "m": "воздух (1% H₂O)", "x": 0.0927, "y": 0.00059},
            {"g": "электроны", "m": "воздух (1% H₂O)", "x": 0.1876, "y": 0.000508},
            {"g": "электроны", "m": "воздух (1% H₂O)", "x": 0.381, "y": 0.000437},
            {"g": "электроны", "m": "воздух (1% H₂O)", "x": 0.774, "y": 0.000358},
            {"g": "электроны", "m": "воздух (1% H₂O)", "x": 1.57, "y": 0.000305},
            {"g": "электроны", "m": "воздух (1% H₂O)", "x": 3.19, "y": 0.000276},
            {"g": "электроны", "m": "воздух (1% H₂O)", "x": 100, "y": 0.000268},
            {"g": "анионы", "m": "N₂ + O₂", "x": 3.32e-5, "y": 0.0001},
            {"g": "анионы", "m": "N₂ + O₂", "x": 8.95e-5, "y": 0.000243},
            {"g": "анионы", "m": "N₂ + O₂", "x": 2.09e-4, "y": 0.000521},
            {"g": "анионы", "m": "N₂ + O₂", "x": 4.26e-4, "y": 0.000968},
            {"g": "анионы", "m": "N₂ + O₂", "x": 8.65e-4, "y": 0.00156},
            {"g": "анионы", "m": "N₂ + O₂", "x": 0.00152, "y": 0.00203},
            {"g": "анионы", "m": "N₂ + O₂", "x": 0.0019, "y": 0.0021},
            {"g": "анионы", "m": "N₂ + O₂", "x": 0.00268, "y": 0.00205},
            {"g": "анионы", "m": "N₂ + O₂", "x": 0.00473, "y": 0.0017},
            {"g": "анионы", "m": "N₂ + O₂", "x": 0.00834, "y": 0.00106},
            {"g": "анионы", "m": "N₂ + O₂", "x": 0.0147, "y": 0.000656},
            {"g": "анионы", "m": "N₂ + O₂", "x": 0.0259, "y": 0.000605},
            {"g": "анионы", "m": "N₂ + O₂", "x": 0.0343, "y": 0.000518},
            {"g": "анионы", "m": "N₂ + O₂", "x": 0.0456, "y": 0.000321},
            {"g": "анионы", "m": "N₂ + O₂", "x": 0.0605, "y": 0.000184},
            {"g": "анионы", "m": "N₂ + O₂", "x": 0.086, "y": 0.0001},
            {"g": "анионы", "m": "N₂ + O₂", "x": 0.12, "y": 0.00005},
            {"g": "анионы", "m": "воздух (1% H₂O)", "x": 3.2e-5, "y": 0.0001},
            {"g": "анионы", "m": "воздух (1% H₂O)", "x": 8.6e-5, "y": 0.00024},
            {"g": "анионы", "m": "воздух (1% H₂O)", "x": 2.05e-4, "y": 0.00051},
            {"g": "анионы", "m": "воздух (1% H₂O)", "x": 4.3e-4, "y": 0.00094},
            {"g": "анионы", "m": "воздух (1% H₂O)", "x": 9e-4, "y": 0.0015},
            {"g": "анионы", "m": "воздух (1% H₂O)", "x": 0.0017, "y": 0.00194},
            {"g": "анионы", "m": "воздух (1% H₂O)", "x": 0.0023, "y": 0.00199},
            {"g": "анионы", "m": "воздух (1% H₂O)", "x": 0.0029, "y": 0.00197},
            {"g": "анионы", "m": "воздух (1% H₂O)", "x": 0.0049, "y": 0.00168},
            {"g": "анионы", "m": "воздух (1% H₂O)", "x": 0.0085, "y": 0.00109},
            {"g": "анионы", "m": "воздух (1% H₂O)", "x": 0.0147, "y": 0.0007},
            {"g": "анионы", "m": "воздух (1% H₂O)", "x": 0.0259, "y": 0.00066},
            {"g": "анионы", "m": "воздух (1% H₂O)", "x": 0.0343, "y": 0.00056},
            {"g": "анионы", "m": "воздух (1% H₂O)", "x": 0.0456, "y": 0.000345},
            {"g": "анионы", "m": "воздух (1% H₂O)", "x": 0.0605, "y": 0.000195},
            {"g": "анионы", "m": "воздух (1% H₂O)", "x": 0.088, "y": 0.0001},
            {"g": "анионы", "m": "воздух (1% H₂O)", "x": 0.12, "y": 0.00005}
          ]},
          "mark": {"type": "line", "strokeWidth": 1.6, "clip": true, "interpolate": "monotone"},
          "encoding": {
            "color": {
              "field": "g", "type": "nominal",
              "scale": {"domain": ["исходные", "радикалы", "возбужденные", "катионы", "электроны", "анионы"], "range": ["#000000", "#ff0000", "#0000ff", "#1e8c1e", "#ff00ff", "#808080"]},
              "legend": null
            },
            "strokeDash": {
              "field": "m", "type": "nominal",
              "scale": {"domain": ["N₂ + O₂", "воздух (1% H₂O)"], "range": [[1, 0], [4, 2]]},
              "legend": null
            }
          }
        },
        {
          "data": {"values": [
            {"x": 8.65e-4, "y": 0.377, "x2": 0.0041, "y2": 0.887},
            {"x": 3.7e-4, "y": 0.0301, "x2": 0.00123, "y2": 0.01845},
            {"x": 0.249, "y": 0.0497, "x2": 0.1146, "y2": 0.0264},
            {"x": 7.78e-5, "y": 0.00377, "x2": 5.26e-4, "y2": 0.00184},
            {"x": 0.0861, "y": 0.00243, "x2": 0.0041, "y2": 0.00538},
            {"x": 0.217, "y": 0.000196, "x2": 0.0525, "y2": 0.000249}
          ]},
          "mark": {"type": "rule", "color": "black", "strokeWidth": 1},
          "encoding": {
            "x2": {"field": "x2"},
            "y2": {"field": "y2"}
          }
        },
        {
          "data": {"values": [
            {"t": "компоненты", "g": "исходные", "x": 3.4e-6, "y": 0.518},
            {"t": "исходной смеси", "g": "исходные", "x": 3.4e-6, "y": 0.286},
            {"t": "электронно-", "g": "возбужденные", "x": 0.286, "y": 0.216},
            {"t": "возбужденные", "g": "возбужденные", "x": 0.286, "y": 0.119},
            {"t": "компоненты", "g": "возбужденные", "x": 0.286, "y": 0.0656}
          ]},
          "mark": {"type": "text", "fontSize": 20, "font": "Liberation Serif, DejaVu Serif", "align": "left", "baseline": "middle"},
          "encoding": {
            "text": {"field": "t"},
            "color": {"field": "g", "type": "nominal", "scale": {"domain": ["исходные", "радикалы", "возбужденные", "катионы", "электроны", "анионы"], "range": ["#000000", "#ff0000", "#0000ff", "#1e8c1e", "#ff00ff", "#808080"]}, "legend": null}
          }
        },
        {
          "data": {"values": [
            {"t": "радикалы", "g": "радикалы", "x": 5.66e-5, "y": 0.0407},
            {"t": "катионы", "g": "катионы", "x": 1.36e-5, "y": 0.00459},
            {"t": "электроны", "g": "электроны", "x": 0.774, "y": 0.00216},
            {"t": "анионы", "g": "анионы", "x": 1.03, "y": 0.000163}
          ]},
          "mark": {"type": "text", "fontSize": 20, "font": "Liberation Serif, DejaVu Serif", "align": "center", "baseline": "middle"},
          "encoding": {
            "text": {"field": "t"},
            "color": {"field": "g", "type": "nominal", "scale": {"domain": ["исходные", "радикалы", "возбужденные", "катионы", "электроны", "анионы"], "range": ["#000000", "#ff0000", "#0000ff", "#1e8c1e", "#ff00ff", "#808080"]}, "legend": null}
          }
        }
      ]
    }
  ]
}
